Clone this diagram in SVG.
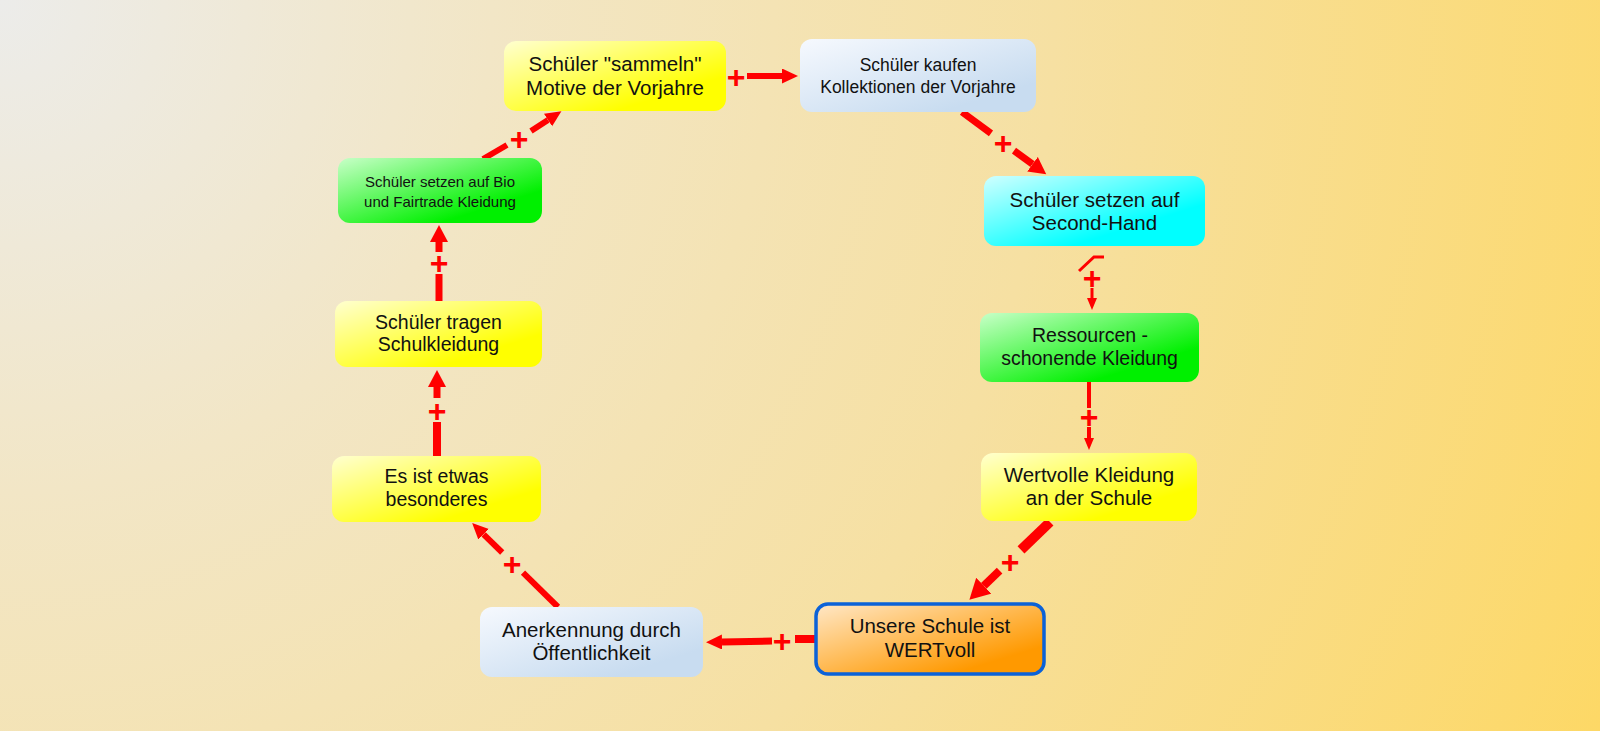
<svg xmlns="http://www.w3.org/2000/svg" width="1600" height="731" viewBox="0 0 1600 731">
<defs>
<radialGradient id="bg" gradientUnits="userSpaceOnUse" cx="0" cy="0" r="1760">
<stop offset="0" stop-color="#ececea"/>
<stop offset="0.28" stop-color="#f2e6c6"/>
<stop offset="0.6" stop-color="#f6e0a2"/>
<stop offset="1" stop-color="#fdd866"/>
</radialGradient>
<linearGradient id="gYellow" x1="0" y1="0" x2="1" y2="1"><stop offset="0" stop-color="#ffffd0"/><stop offset="0.75" stop-color="#ffff00"/></linearGradient>
<linearGradient id="gBlue" x1="0" y1="0" x2="1" y2="1"><stop offset="0" stop-color="#f6f9fe"/><stop offset="0.8" stop-color="#c8dcf0"/></linearGradient>
<linearGradient id="gGreen" x1="0" y1="0" x2="1" y2="1"><stop offset="0" stop-color="#c8ffc8"/><stop offset="0.75" stop-color="#00f000"/></linearGradient>
<linearGradient id="gCyan" x1="0" y1="0" x2="1" y2="1"><stop offset="0" stop-color="#d0ffff"/><stop offset="0.7" stop-color="#00ffff"/></linearGradient>
<linearGradient id="gOrange" x1="0" y1="0" x2="1" y2="1"><stop offset="0" stop-color="#ffe8c8"/><stop offset="0.8" stop-color="#ff9900"/></linearGradient>
<marker id="ahL" markerUnits="userSpaceOnUse" markerWidth="22" markerHeight="24" refX="0" refY="11" orient="auto"><path d="M0,0 L20,11 L0,22 z" fill="#ff0000"/></marker>
<marker id="ahM" markerUnits="userSpaceOnUse" markerWidth="20" markerHeight="20" refX="0" refY="9" orient="auto"><path d="M0,0 L17,9 L0,18 z" fill="#ff0000"/></marker>
<marker id="ahS" markerUnits="userSpaceOnUse" markerWidth="18" markerHeight="18" refX="0" refY="7.5" orient="auto"><path d="M0,0 L16,7.5 L0,15 z" fill="#ff0000"/></marker>
<marker id="ahT" markerUnits="userSpaceOnUse" markerWidth="14" markerHeight="12" refX="0" refY="5" orient="auto"><path d="M0,0 L12,5 L0,10 z" fill="#ff0000"/></marker>
</defs>
<style>
.box{rx:12px;ry:12px}
.t{font-family:"Liberation Sans",Arial,sans-serif;fill:#111;text-anchor:middle}
.f20{font-size:20.5px}
.f19{font-size:19.5px}
.f17{font-size:17.5px}
.f15{font-size:15px}
.ln{stroke:#ff0000;fill:none;stroke-linecap:butt}
.pl{font-family:"Liberation Sans",Arial,sans-serif;font-weight:bold;font-size:32px;fill:#ff0000;text-anchor:middle}
</style>
<rect x="0" y="0" width="1600" height="731" fill="url(#bg)"/>

<g id="connectors">
<!-- A: Bio -> sammeln -->
<line class="ln" x1="483" y1="159" x2="507" y2="145" stroke-width="6"/>
<line class="ln" x1="531" y1="131" x2="548" y2="120" stroke-width="6" marker-end="url(#ahS)"/>
<text class="pl" x="519" y="149.5">+</text>
<!-- B: sammeln -> kaufen -->
<line class="ln" x1="747" y1="76" x2="782" y2="76" stroke-width="6" marker-end="url(#ahS)"/>
<text class="pl" x="736" y="87.5">+</text>
<!-- C: kaufen -> Second-Hand -->
<line class="ln" x1="962" y1="112" x2="991" y2="133.4" stroke-width="7"/>
<line class="ln" x1="1014" y1="150.7" x2="1032.5" y2="164.2" stroke-width="7" marker-end="url(#ahM)"/>
<text class="pl" x="1003" y="153.5">+</text>
<!-- D: Second-Hand -> Ressourcen -->
<polyline class="ln" points="1079,271 1094,257 1104,257" stroke-width="3"/>
<line class="ln" x1="1092" y1="288" x2="1092" y2="298" stroke-width="3" marker-end="url(#ahT)"/>
<text class="pl" x="1092" y="288.5">+</text>
<!-- E: Ressourcen -> Wertvolle -->
<line class="ln" x1="1089" y1="382" x2="1089" y2="408" stroke-width="4"/>
<line class="ln" x1="1089" y1="427" x2="1089" y2="438" stroke-width="4" marker-end="url(#ahT)"/>
<text class="pl" x="1089" y="427.5">+</text>
<!-- F: Wertvolle -> WERTvoll -->
<line class="ln" x1="1050" y1="522" x2="1021" y2="549.8" stroke-width="10"/>
<line class="ln" x1="999.6" y1="570.6" x2="983.8" y2="585.8" stroke-width="8" marker-end="url(#ahL)"/>
<text class="pl" x="1010" y="572.5">+</text>
<!-- G: WERTvoll -> Anerkennung -->
<line class="ln" x1="815" y1="639" x2="795" y2="639" stroke-width="8"/>
<line class="ln" x1="772" y1="641" x2="722" y2="642" stroke-width="7" marker-end="url(#ahS)"/>
<text class="pl" x="782" y="651.5">+</text>
<!-- H: Anerkennung -> Es ist etwas -->
<line class="ln" x1="558" y1="607" x2="523" y2="572.7" stroke-width="6"/>
<line class="ln" x1="502.2" y1="552.5" x2="483.6" y2="534.3" stroke-width="6" marker-end="url(#ahS)"/>
<text class="pl" x="512" y="574.5">+</text>
<!-- I: Es ist etwas -> Schüler tragen -->
<line class="ln" x1="437" y1="456" x2="437" y2="422" stroke-width="8"/>
<line class="ln" x1="437" y1="398" x2="437" y2="387" stroke-width="7" marker-end="url(#ahM)"/>
<text class="pl" x="437" y="421.5">+</text>
<!-- J: Schüler tragen -> Bio -->
<line class="ln" x1="439" y1="301" x2="439" y2="274" stroke-width="7"/>
<line class="ln" x1="439" y1="252" x2="439" y2="242" stroke-width="7" marker-end="url(#ahM)"/>
<text class="pl" x="439" y="273.5">+</text>
</g>

<g id="n-sammeln">
<rect class="box" x="504" y="41" width="222" height="70" fill="url(#gYellow)"/>
<text class="t f20" x="615" y="71">Schüler "sammeln"</text>
<text class="t f20" x="615" y="95">Motive der Vorjahre</text>
</g>
<g id="n-kaufen">
<rect class="box" x="800" y="39" width="236" height="73" fill="url(#gBlue)"/>
<text class="t f17" x="918" y="70.5">Schüler kaufen</text>
<text class="t f17" x="918" y="92.5">Kollektionen der Vorjahre</text>
</g>
<g id="n-bio">
<rect class="box" x="338" y="158" width="204" height="65" fill="url(#gGreen)"/>
<text class="t f15" x="440" y="186.5">Schüler setzen auf Bio</text>
<text class="t f15" x="440" y="206.5">und Fairtrade Kleidung</text>
</g>
<g id="n-secondhand">
<rect class="box" x="984" y="176" width="221" height="70" fill="url(#gCyan)"/>
<text class="t f20" x="1094.5" y="206.5">Schüler setzen auf</text>
<text class="t f20" x="1094.5" y="230">Second-Hand</text>
</g>
<g id="n-ressourcen">
<rect class="box" x="980" y="313" width="219" height="69" fill="url(#gGreen)"/>
<text class="t f19" x="1090" y="341.5">Ressourcen -</text>
<text class="t f19" x="1089.5" y="365">schonende Kleidung</text>
</g>
<g id="n-wertvolle">
<rect class="box" x="981" y="453" width="216" height="68" fill="url(#gYellow)"/>
<text class="t f20" x="1089" y="481.5">Wertvolle Kleidung</text>
<text class="t f20" x="1089" y="505">an der Schule</text>
</g>
<g id="n-tragen">
<rect class="box" x="335" y="301" width="207" height="66" fill="url(#gYellow)"/>
<text class="t f19" x="438.5" y="329">Schüler tragen</text>
<text class="t f19" x="438.5" y="351">Schulkleidung</text>
</g>
<g id="n-besonderes">
<rect class="box" x="332" y="456" width="209" height="66" fill="url(#gYellow)"/>
<text class="t f19" x="436.5" y="482.5">Es ist etwas</text>
<text class="t f19" x="436.5" y="506">besonderes</text>
</g>
<g id="n-anerkennung">
<rect class="box" x="480" y="607" width="223" height="70" fill="url(#gBlue)"/>
<text class="t f20" x="591.5" y="636.5">Anerkennung durch</text>
<text class="t f20" x="591.5" y="660">Öffentlichkeit</text>
</g>
<g id="n-wertvoll">
<rect class="box" x="816" y="604" width="228" height="70" fill="url(#gOrange)" stroke="#0b62d8" stroke-width="3.5"/>
<text class="t f20" x="930" y="632.5">Unsere Schule ist</text>
<text class="t f20" x="930" y="656.5">WERTvoll</text>
</g>
</svg>
